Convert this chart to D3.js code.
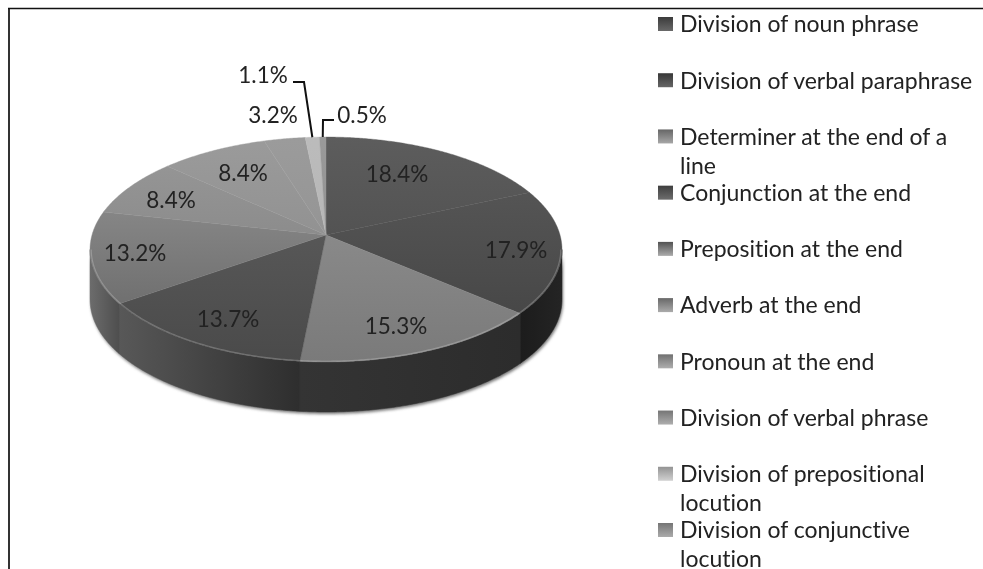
<!DOCTYPE html>
<html>
  <head>
    <meta charset="utf-8">
    <title>Line-end divisions</title>
    <style>
      html, body { margin: 0; padding: 0; background: #fff; }
      svg { display: block; }
      text { font-family: Lato, "Open Sans", sans-serif; fill: #222; font-variant-ligatures: none; }
    </style>
  </head>
  <body>
    <div id="container"></div>
    <script src="https://d3js.org/d3.v7.min.js"></script>
    <script>

      // DATA
      var categories = [
        ["Division of noun phrase"],
        ["Division of verbal paraphrase"],
        ["Determiner at the end of a", "line"],
        ["Conjunction at the end"],
        ["Preposition at the end"],
        ["Adverb at the end"],
        ["Pronoun at the end"],
        ["Division of verbal phrase"],
        ["Division of prepositional", "locution"],
        ["Division of conjunctive", "locution"]
      ];
      var values = [18.4, 17.9, 15.3, 13.7, 13.2, 8.4, 8.4, 3.2, 1.1, 0.5];

      // SHADES, ONE PER SLICE
      var faceTop = ["#5e5e5e", "#5c5c5c", "#969696", "#626262", "#9a9a9a", "#9a9a9a", "#9c9c9c", "#9c9c9c", "#bcbcbc", "#9a9a9a"];
      var faceBottom = ["#464646", "#424242", "#7a7a7a", "#4a4a4a", "#626262", "#7c7c7c", "#868686", "#8c8c8c", "#b0b0b0", "#8c8c8c"];
      var sideLeft = ["#222", "#1c1c1c", "#343434", "#585858", "#6c6c6c", "#666", "#666", "#666", "#666", "#666"];
      var sideRight = ["#222", "#242424", "#2c2c2c", "#2e2e2e", "#4e4e4e", "#666", "#666", "#666", "#666", "#666"];

      // LABEL PLACEMENT (centre of each value label)
      var labelX = [397, 516, 396, 228, 135, 171, 243, 273, 263, 362];
      var labelY = [174, 250, 326, 319, 253, 200, 173, 115, 75, 115];

      var width = 983, height = 569;
      var cx = 326, cy = 235, depth = 50;
      var a = 234, b = 110.6, k = 0.129;   // tilted disc, the near edge is drawn larger

      var svg = d3.select("#container").append("svg")
        .attr("width", width)
        .attr("height", height);
      var defs = svg.append("defs");

      // FRAME
      svg.append("line")
        .attr("x1", 9).attr("x2", 9)
        .attr("y1", 8).attr("y2", height)
        .attr("stroke", "#333")
        .attr("stroke-width", 2);
      svg.append("line")
        .attr("x1", 8).attr("x2", width)
        .attr("y1", 8.5).attr("y2", 8.5)
        .attr("stroke", "#111")
        .attr("stroke-width", 1.4);

      // PROJECT AN ANGLE + RADIUS ON THE DISC TO THE SCREEN
      function project(angle, r) {
        var u = Math.sin(angle) * r, v = -Math.cos(angle) * r;
        var d = 1 - k * v;
        return [cx + a * u / d, cy + b * v / d];
      }
      function sample(a0, a1) {
        var n = Math.max(2, Math.ceil((a1 - a0) * 120));
        return d3.range(n + 1).map(i => a0 + (a1 - a0) * i / n);
      }

      var slices = d3.pie().sort(null).value(d => d)(values);

      // SOFT SHADOW UNDER THE BASE
      var blur = defs.append("filter").attr("id", "soft")
        .attr("x", "-5%").attr("y", "-5%").attr("width", "110%").attr("height", "120%");
      blur.append("feGaussianBlur").attr("stdDeviation", 1.6);

      // the reference text is a little soft, it was scaled up
      var textBlur = defs.append("filter").attr("id", "textsoft")
        .attr("x", "-5%").attr("y", "-20%").attr("width", "110%").attr("height", "140%");
      textBlur.append("feGaussianBlur").attr("stdDeviation", 0.35);

      var visibleFrom = Math.acos(-k), visibleTo = 2 * Math.PI - visibleFrom;
      var side = d3.area()
        .x(d => project(d, 1)[0])
        .y0(d => project(d, 1)[1])
        .y1(d => project(d, 1)[1] + depth);

      svg.append("path")
        .attr("d", side(sample(visibleFrom, visibleTo)))
        .attr("transform", "translate(1,2)")
        .attr("fill", "#777")
        .attr("filter", "url(#soft)");

      // SIDE WALL
      slices.forEach(function (s, i) {
        var from = Math.max(s.startAngle, visibleFrom), to = Math.min(s.endAngle, visibleTo);
        if (to <= from) return;
        var grad = defs.append("linearGradient").attr("id", "side" + i)
          .attr("gradientUnits", "userSpaceOnUse")
          .attr("x1", project(to, 1)[0]).attr("x2", project(from, 1)[0])
          .attr("y1", 0).attr("y2", 0);
        grad.append("stop").attr("offset", 0).attr("stop-color", sideLeft[i]);
        grad.append("stop").attr("offset", 1).attr("stop-color", sideRight[i]);
        svg.append("path")
          .attr("d", side(sample(from, to)))
          .attr("fill", "url(#side" + i + ")")
          .attr("stroke", "url(#side" + i + ")")
          .attr("stroke-width", 0.5);
      });

      // TOP FACE
      var faceLine = d3.line();
      slices.forEach(function (s, i) {
        var grad = defs.append("linearGradient").attr("id", "face" + i)
          .attr("gradientUnits", "userSpaceOnUse")
          .attr("x1", 0).attr("x2", 0)
          .attr("y1", cy - b).attr("y2", cy + b * 1.15);
        grad.append("stop").attr("offset", 0).attr("stop-color", faceTop[i]);
        grad.append("stop").attr("offset", 1).attr("stop-color", faceBottom[i]);
        var pts = [[cx, cy]].concat(sample(s.startAngle, s.endAngle).map(d => project(d, 1)));
        svg.append("path")
          .attr("d", faceLine(pts) + "Z")
          .attr("fill", "url(#face" + i + ")")
          .attr("stroke", "url(#face" + i + ")")
          .attr("stroke-width", 0.4);
      });

      // LIGHT RIM ALONG THE NEAR EDGE
      svg.append("path")
        .attr("d", faceLine(sample(visibleFrom, visibleTo).map(d => project(d, 0.995))))
        .attr("fill", "none")
        .attr("stroke", "#fff")
        .attr("stroke-opacity", 0.22)
        .attr("stroke-width", 1.2);

      // LEADER LINES FOR THE TWO SMALLEST SLICES
      function leader(i, x0, elbowX, elbowY) {
        var end = project((slices[i].startAngle + slices[i].endAngle) / 2, 1);
        svg.append("path")
          .attr("d", faceLine([[x0, elbowY], [elbowX, elbowY], end]))
          .attr("fill", "none")
          .attr("stroke", "#111")
          .attr("stroke-width", 2);
      }
      leader(8, 293, 304, 82);
      leader(9, 334, 323, 120);

      // VALUE LABELS
      svg.selectAll(".value")
        .data(values)
        .enter()
        .append("text")
        .attr("class", "value")
        .attr("x", (d, i) => labelX[i])
        .attr("y", (d, i) => labelY[i])
        .attr("dy", "0.36em")
        .attr("text-anchor", "middle")
        .attr("filter", "url(#textsoft)")
        .style("font-size", "22.5px")
        .text(d => d.toFixed(1) + "%");

      // LEGEND
      var legendY = d3.scalePoint()
        .domain(d3.range(categories.length))
        .range([24, 530]);

      var legend = svg.selectAll(".legend")
        .data(categories)
        .enter()
        .append("g")
        .attr("class", "legend")
        .attr("transform", (d, i) => "translate(658," + legendY(i) + ")");

      legend.each(function (d, i) {
        var grad = defs.append("linearGradient").attr("id", "key" + i)
          .attr("x1", 0).attr("x2", 0).attr("y1", 0).attr("y2", 1);
        grad.append("stop").attr("offset", 0).attr("stop-color", d3.color(faceBottom[i]).darker(0.5));
        grad.append("stop").attr("offset", 1).attr("stop-color", d3.color(faceTop[i]).brighter(0.3));
      });

      legend.append("rect")
        .attr("x", 0)
        .attr("y", -7)
        .attr("width", 15)
        .attr("height", 14)
        .attr("fill", (d, i) => "url(#key" + i + ")");

      legend.selectAll("text")
        .data(d => d)
        .enter()
        .append("text")
        .attr("x", 22)
        .attr("y", (d, i) => i * 29)
        .attr("dy", "0.36em")
        .attr("filter", "url(#textsoft)")
        .style("font-size", "23px")
        .text(d => d);

    </script>
  </body>
</html>
